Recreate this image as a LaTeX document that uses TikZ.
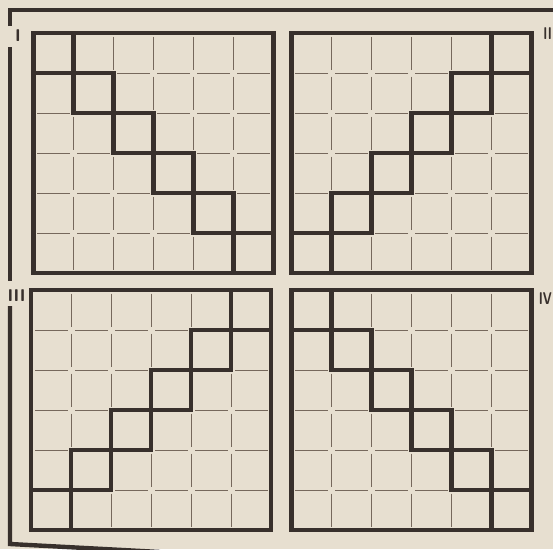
\documentclass[tikz,border=0pt]{standalone}
\definecolor{paperColor}{RGB}{231,223,208}
\definecolor{inkColor}{RGB}{56,48,44}
\definecolor{gridColor}{RGB}{118,104,92}
\tikzset{
    thickRule/.style={draw=inkColor, line width=4.6pt, line cap=rect},
    thinRule/.style={draw=gridColor, line width=0.9pt, dash pattern=on 33pt off 7pt, dash phase=36.5pt},
    frameRule/.style={draw=inkColor, line width=4.4pt},
    panelLabel/.style={inner sep=0pt, text=inkColor, font=\sffamily\bfseries\fontsize{17}{17}\selectfont},
    narrowLabel/.style={panelLabel, transform shape, xscale=0.72},
}
\begin{document}
\begin{tikzpicture}[x=1pt, y=-1pt]
    \fill[paperColor] (0,0) rectangle (553,549);
    \useasboundingbox (0,0) rectangle (553,549);

    \foreach \px/\py/\xunit in {33.5/33/40pt, 531.5/33/-40pt, 271/290/-40pt, 291.5/290/40pt} {
        \begin{scope}[shift={(\px,\py)}, x=\xunit, y=-40pt]
            \foreach \k in {1,...,5} {
                \draw[thinRule] (\k,0) -- (\k,6);
                \draw[thinRule] (0,\k) -- (6,\k);
            }
            \foreach \i in {0,...,4} {
                \draw[thickRule] (\i,\i+1) -- (\i+2,\i+1);
                \draw[thickRule] (\i+1,\i) -- (\i+1,\i+2);
            }
            \draw[thickRule, line cap=butt] (0,0) rectangle (6,6);
        \end{scope}
    }

    \draw[frameRule] (10,26) -- (10,10) -- (556,10);
    \draw[frameRule] (10,47) -- (10,281);
    \draw[frameRule] (10,306) -- (10,544) -- (160,552);

    \node[panelLabel] (labelOne) at (18,35.5) {I};
    \node[narrowLabel, anchor=east] (labelTwo) at (552,34) {II};
    \node[panelLabel] (labelThree) at (16.5,296) {III};
    \node[narrowLabel, anchor=east] (labelFour) at (552,299) {IV};
\end{tikzpicture}
\end{document}
